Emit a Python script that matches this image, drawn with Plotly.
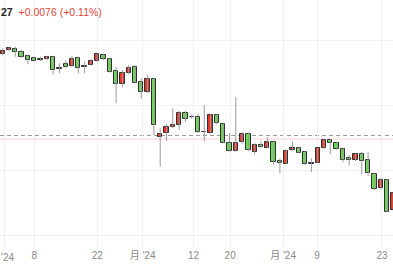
import plotly.graph_objects as go

# --- data (prices) ---
opens  = [7.1960,7.2000,7.2015,7.1977,7.1943,7.1923,7.1900,7.1910,7.1935,7.1807,
          7.1857,7.1840,7.1920,7.1827,7.1855,7.1890,7.1953,7.1915,7.1793,7.1657,
          7.1773,7.1830,7.1683,7.1583,7.1710,7.1133,7.1167,7.1230,7.1250,7.1373,
          7.1335,7.1333,7.1183,7.1170,7.1350,7.1258,7.1075,7.0987,7.1077,7.1158,
          7.0983,7.1050,7.1025,7.1083,7.0890,7.0862,7.1000,7.1023,7.0983,7.0858,
          7.0875,7.1022,7.1100,7.1073,7.1010,7.0923,7.0900,7.0960,7.0897,7.0763,
          7.0617,7.0703,7.0400]
highs  = [7.2017,7.2025,7.2033,7.2000,7.1957,7.1935,7.1933,7.1943,7.1943,7.1867,
          7.1900,7.1943,7.1933,7.1883,7.1910,7.1967,7.1965,7.1920,7.1827,7.1800,
          7.1850,7.1850,7.1717,7.1750,7.1723,7.1217,7.1260,7.1417,7.1390,7.1393,
          7.1355,7.1360,7.1450,7.1360,7.1360,7.1267,7.1167,7.1530,7.1177,7.1175,
          7.1067,7.1093,7.1130,7.1093,7.0917,7.1005,7.1083,7.1033,7.0990,7.0917,
          7.1023,7.1107,7.1110,7.1083,7.1017,7.0950,7.0967,7.0980,7.0983,7.0767,
          7.0723,7.0710,7.0580]
lows   = [7.1945,7.1990,7.1933,7.1923,7.1857,7.1885,7.1890,7.1900,7.1757,7.1767,
          7.1817,7.1827,7.1767,7.1767,7.1845,7.1883,7.1900,7.1773,7.1467,7.1627,
          7.1757,7.1665,7.1517,7.1567,7.1150,7.0833,7.1093,7.1217,7.1200,7.1280,
          7.1315,7.1167,7.1085,7.1163,7.1255,7.1067,7.0983,7.0983,7.1057,7.0990,
          7.0955,7.1023,7.1023,7.0855,7.0767,7.0860,7.0990,7.0967,7.0850,7.0780,
          7.0873,7.1010,7.0960,7.1000,7.0875,7.0845,7.0890,7.0760,7.0740,7.0600,
          7.0607,7.0380,7.0390]
closes = [7.1995,7.2017,7.1983,7.1933,7.1900,7.1893,7.1915,7.1927,7.1800,7.1823,
          7.1830,7.1907,7.1817,7.1845,7.1888,7.1957,7.1907,7.1785,7.1657,7.1773,
          7.1823,7.1670,7.1583,7.1707,7.1250,7.1157,7.1227,7.1250,7.1373,7.1313,
          7.1328,7.1177,7.1176,7.1350,7.1267,7.1073,7.0987,7.1075,7.1157,7.1000,
          7.1050,7.1030,7.1083,7.0883,7.0870,7.0995,7.1023,7.0973,7.0857,7.0873,
          7.1017,7.1100,7.1073,7.1007,7.0903,7.0900,7.0960,7.0893,7.0767,7.0607,
          7.0700,7.0385,7.0567]

tick_pos    = [0.36, 5, 15, 22.2, 30.3, 36.1, 44.5, 49.9, 60.2]
tick_labels = ["'24", "8", "22", "月 '24", "12", "20", "月 '24", "9", "23"]
grid_prices = [7.21, 7.145, 7.08, 7.015]
ref_line    = 7.1145   # dashed reference level
last_line   = 7.1110   # current price line

header_last  = "27"
header_delta = "+0.0076 (+0.11%)"

UP_FILL = "#e6372b"
DN_FILL = "#66de4e"
OUTLINE = "#2e2e2e"
WICK = "#9a9a9a"
FONT = "Liberation Sans, Noto Sans CJK JP"

n = len(opens)
xs = list(range(n))

# wicks
wx, wy = [], []
for i in xs:
    wx += [i, i, None]
    wy += [lows[i], highs[i], None]

fig = go.Figure()
fig.add_trace(go.Scatter(x=wx, y=wy, mode="lines",
                         line=dict(color=WICK, width=1), hoverinfo="skip",
                         showlegend=False))

bases = [min(o, c) for o, c in zip(opens, closes)]
heights = [max(abs(c - o), 0.0004) for o, c in zip(opens, closes)]
colors = [UP_FILL if c > o else DN_FILL for o, c in zip(opens, closes)]
fig.add_trace(go.Bar(x=xs, y=heights, base=bases, width=0.68,
                     marker=dict(color=colors, line=dict(color=OUTLINE, width=1)),
                     showlegend=False))

fig.add_shape(type="line", xref="paper", x0=0, x1=1, y0=last_line, y1=last_line,
              line=dict(color="#f6cfcf", width=1), layer="below")
fig.add_shape(type="line", xref="paper", x0=0, x1=1, y0=ref_line, y1=ref_line,
              line=dict(color="#9a9a9a", width=1, dash="4px,3px"), layer="below")

fig.add_annotation(xref="paper", yref="paper", x=0, y=1 - 12/248,
                   xanchor="left", yanchor="middle", showarrow=False, borderpad=0,
                   text=f"<b>{header_last}</b>  <span style='color:#e0453a'>{header_delta}</span>",
                   font=dict(size=10.5, color="#222222", family=FONT))

# first (edge-clipped) tick label, drawn at the left edge
fig.add_annotation(xref="paper", yref="paper", x=0, y=(248 - 257.5) / 248,
                   xanchor="left", yanchor="middle", showarrow=False, borderpad=0,
                   text=tick_labels[0], font=dict(size=10, color="#888888", family=FONT))

shown_text = [""] + tick_labels[1:]

fig.update_layout(
    width=393, height=267,
    margin=dict(l=0, r=0, t=0, b=19),
    paper_bgcolor="white", plot_bgcolor="white",
    bargap=0, showlegend=False,
    font=dict(family=FONT, size=10, color="#888888"),
)
fig.update_xaxes(range=[-0.43, 61.95], tickmode="array", tickvals=tick_pos,
                 ticktext=shown_text, showgrid=True, gridcolor="#f0f0f0",
                 zeroline=False, showline=False, ticks="", ticklen=0,
                 tickfont=dict(size=10, color="#888888"))
fig.update_yaxes(range=[7.002, 7.25], tickmode="array", tickvals=grid_prices,
                 showticklabels=False, showgrid=True, gridcolor="#f0f0f0",
                 zeroline=False, showline=False)

fig.write_html("out.html")
